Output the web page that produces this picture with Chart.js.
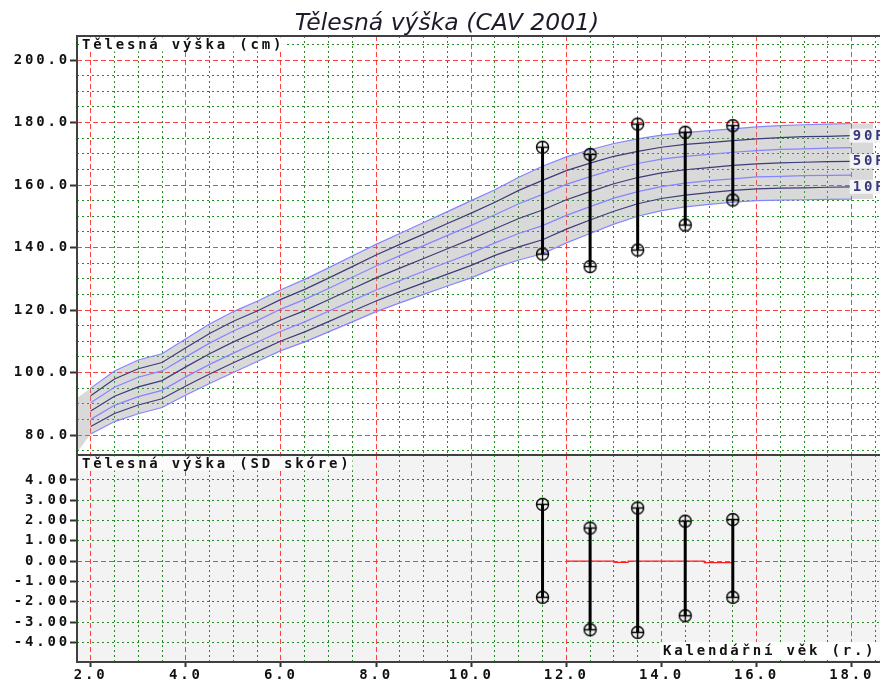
<!DOCTYPE html>
<html>
<head>
<meta charset="utf-8">
<script src="https://cdn.jsdelivr.net/npm/chart.js@4.4.1/dist/chart.umd.min.js"></script>
<style>
  html, body { margin: 0; padding: 0; background: #fff; }
  #wrap { position: relative; width: 880px; height: 683px; overflow: hidden; background: #fff; }
  #wrap canvas { position: absolute; left: 0; }
  #heightChart { top: 0; }
  #sdChart { top: 454px; }
  #title { position: absolute; left: 0; top: 11px; width: 894px; text-align: center;
           font: italic 23.5px/23.5px "DejaVu Sans", Verdana, sans-serif; color: #1c1c2a; }
</style>
</head>
<body>
<div id="wrap">
  <canvas id="heightChart" width="880" height="456"></canvas>
  <canvas id="sdChart" width="880" height="229"></canvas>
  <div id="title">Tělesná výška (CAV 2001)</div>
</div>
<script>
// věk (roky) pro percentilové křivky
const ages = [2, 2.5, 3, 3.5, 4, 4.5, 5, 5.5, 6, 6.5, 7, 7.5, 8, 8.5, 9, 9.5, 10, 10.5,
              11, 11.5, 12, 12.5, 13, 13.5, 14, 14.5, 15, 15.5, 16, 16.5, 17, 17.5, 18];

// percentily výšky (cm)
const p3  = [80.3, 84.3, 86.8, 88.8, 92.8, 96.5, 100.0, 103.5, 107.0, 109.8, 113.0, 116.2, 119.5, 122.3, 125.0, 127.7, 130.3, 133.5,
             136.0, 138.0, 141.5, 144.5, 147.5, 150.0, 151.8, 153.0, 153.8, 154.5, 155.0, 155.2, 155.3, 155.4, 155.5];
const p10 = [82.7, 86.9, 89.6, 91.6, 95.7, 99.5, 103.1, 106.6, 110.1, 113.0, 116.3, 119.6, 122.9, 125.9, 128.7, 131.5, 134.3, 137.5,
             140.2, 142.5, 145.9, 148.8, 151.6, 154.0, 155.7, 156.8, 157.6, 158.3, 158.8, 159.0, 159.1, 159.3, 159.4];
const p25 = [85.0, 89.5, 92.3, 94.3, 98.6, 102.6, 106.2, 109.7, 113.2, 116.2, 119.6, 123.0, 126.4, 129.4, 132.4, 135.3, 138.2, 141.5,
             144.5, 147.0, 150.3, 153.1, 155.8, 157.9, 159.5, 160.6, 161.4, 162.0, 162.6, 162.8, 163.0, 163.1, 163.2];
const p50 = [87.7, 92.4, 95.4, 97.4, 101.8, 106.0, 109.8, 113.2, 116.8, 119.8, 123.3, 126.8, 130.3, 133.4, 136.5, 139.6, 142.7, 146.0,
             149.3, 152.0, 155.3, 157.9, 160.4, 162.4, 163.9, 164.9, 165.6, 166.3, 166.8, 167.1, 167.3, 167.5, 167.6];
const p75 = [90.3, 95.3, 98.5, 100.5, 105.0, 109.4, 113.3, 116.6, 120.3, 123.4, 126.9, 130.5, 134.1, 137.4, 140.6, 143.9, 147.1, 150.5,
             154.0, 157.0, 160.2, 162.7, 165.0, 166.9, 168.3, 169.2, 169.8, 170.5, 171.0, 171.4, 171.6, 171.8, 172.0];
const p90 = [92.6, 97.9, 101.2, 103.2, 107.9, 112.5, 116.4, 119.7, 123.4, 126.6, 130.2, 133.9, 137.6, 141.0, 144.3, 147.7, 151.0, 154.5,
             158.3, 161.5, 164.6, 167.0, 169.2, 170.8, 172.1, 173.0, 173.6, 174.2, 174.8, 175.2, 175.5, 175.6, 175.8];
const p97 = [95.0, 100.5, 104.0, 106.0, 110.8, 115.5, 119.5, 122.8, 126.5, 129.8, 133.5, 137.3, 141.0, 144.5, 148.0, 151.5, 155.0, 158.5,
             162.5, 166.0, 169.0, 171.3, 173.3, 174.8, 176.0, 176.8, 177.4, 178.0, 178.6, 179.0, 179.3, 179.5, 179.7];

// šedé pásmo 3.-97. percentil přesahuje křivky na obou koncích
const bandLeadAge = 1.5, bandLeadLow = 70.0, bandLeadHigh = 89.5;
const bandTailAge = 18.45;

// kontroly pacienta: rozpětí výšky a SD skóre
const visitAges  = [11.5, 12.5, 13.5, 14.5, 15.5];
const heightHigh = [172.1, 169.8, 179.5, 176.9, 179.0];
const heightLow  = [137.9, 133.9, 139.2, 147.2, 155.2];
const sdHigh     = [2.80, 1.63, 2.62, 1.97, 2.05];
const sdLow      = [-1.78, -3.38, -3.51, -2.69, -1.78];

// červená čára průměru v grafu SD skóre
const sdMeanAges = [12.0, 13.0, 13.3, 14.9, 15.5];
const sdMean     = [0, -0.06, 0, -0.07, -0.07];

// osy a mřížka
const ageTicks    = [2, 4, 6, 8, 10, 12, 14, 16, 18];
const ageMinor    = [2.5, 3, 3.5, 4.5, 5, 5.5, 6.5, 7, 7.5, 8.5, 9, 9.5, 10.5, 11, 11.5, 12.5, 13, 13.5,
                     14.5, 15, 15.5, 16.5, 17, 17.5, 18.5];
const heightTicks = [80, 100, 120, 140, 160, 180, 200];
const heightMinor = [75, 85, 90, 95, 105, 110, 115, 125, 130, 135, 145, 150, 155, 165, 170, 175, 185, 190, 195, 205];
const sdTicks     = [-4, -3, -2, -1, 0, 1, 2, 3, 4];

const AGE_MIN = 1.712, AGE_MAX = 18.595;
const H_MIN = 73.6, H_MAX = 207.7;
const SD_MIN = -4.97, SD_MAX = 5.23;

const RED = 'rgba(255, 30, 30, 0.85)';
const GREEN = 'rgba(0, 120, 0, 0.85)';
const RED_DASH = [5, 3];
const GREEN_DASH = [2, 3];
const LIGHT = '#8585ff';
const DARK = '#3c3c78';
const FONT_FAMILY = '"DejaVu Sans Mono", "Liberation Mono", monospace';
const FONT_SIZE = 14;
const tickFont = { family: FONT_FAMILY, size: FONT_SIZE, weight: 'bold' };

const pts = (xs, ys) => xs.map((x, i) => ({ x, y: ys[i] }));

// pevná velikost os, bez automatického odsazení popisků
function fixSize(size) {
  return s => {
    if (s.isHorizontal()) s.height = size; else s.width = size;
    s.paddingTop = s.paddingBottom = s.paddingLeft = s.paddingRight = 0;
  };
}

function gridAxis(values, color, dash, min, max) {
  return {
    type: 'linear', min, max,
    afterBuildTicks: s => { s.ticks = values.map(v => ({ value: v })); },
    afterFit: fixSize(0),
    ticks: { display: false },
    grid: { color, lineWidth: 1, drawTicks: false },
    border: { display: false, dash }
  };
}

function visitBars(highs, lows) {
  const out = [];
  visitAges.forEach((a, i) => {
    out.push({ x: a, y: highs[i] }, { x: a, y: lows[i] }, { x: a, y: null });
  });
  return out;
}

// kroužek s křížkem pro body měření
function crossCircle() {
  const c = document.createElement('canvas');
  c.width = 15; c.height = 15;
  const g = c.getContext('2d');
  g.strokeStyle = '#000';
  g.lineWidth = 1.4;
  g.beginPath(); g.arc(7.5, 7.5, 6, 0, Math.PI * 2); g.stroke();
  g.beginPath();
  g.moveTo(1.5, 7.5); g.lineTo(13.5, 7.5);
  g.moveTo(7.5, 1.5); g.lineTo(7.5, 13.5);
  g.stroke();
  return c;
}
const marker = crossCircle();

function barDataset(data) {
  return {
    data, xAxisID: 'x', yAxisID: 'y', order: 0,
    borderColor: '#000', borderWidth: 3, spanGaps: false,
    pointStyle: marker, pointRadius: 6, tension: 0
  };
}

function curve(values, color) {
  return {
    data: pts(ages, values), xAxisID: 'x', yAxisID: 'y', order: 1,
    borderColor: color, borderWidth: 1.2, pointRadius: 0, tension: 0
  };
}

const spacingPlugin = {
  id: 'spacing',
  beforeDraw(chart) { chart.ctx.letterSpacing = '2.8px'; }
};

const framePlugin = {
  id: 'frame',
  beforeDraw(chart, args, opts) {
    if (!opts.fill) return;
    const a = chart.chartArea, ctx = chart.ctx;
    ctx.save();
    ctx.fillStyle = opts.fill;
    ctx.fillRect(a.left, a.top, a.right - a.left, a.bottom - a.top);
    ctx.restore();
  },
  afterDraw(chart) {
    const a = chart.chartArea, ctx = chart.ctx;
    ctx.save();
    ctx.strokeStyle = '#404040';
    ctx.lineWidth = 2;
    ctx.strokeRect(a.left, a.top, a.right - a.left + 4, a.bottom - a.top);
    ctx.restore();
  }
};

function caption(ctx, text, x, yMid, bg, color) {
  ctx.font = 'bold ' + FONT_SIZE + 'px ' + FONT_FAMILY;
  const w = ctx.measureText(text).width;
  if (bg) {
    ctx.fillStyle = bg;
    ctx.fillRect(x - 3, yMid - 7, w + 4, 14);
  }
  ctx.fillStyle = color;
  ctx.textBaseline = 'middle';
  ctx.textAlign = 'left';
  ctx.fillText(text, x, yMid + 0.5);
}

const heightCaptions = {
  id: 'heightCaptions',
  afterDatasetsDraw(chart) {
    const ctx = chart.ctx, a = chart.chartArea;
    ctx.save();
    caption(ctx, 'Tělesná výška (cm)', a.left + 5, a.top + 8.5, '#fff', '#111');
    const xEnd = chart.scales.x.getPixelForValue(18);
    [['90P', p90], ['50P', p50], ['10P', p10]].forEach(([name, arr]) => {
      const y = chart.scales.y.getPixelForValue(arr[arr.length - 1]);
      caption(ctx, name, xEnd + 1, y, '#f4f4f4', '#38387f');
    });
    ctx.restore();
  }
};

const sdCaptions = {
  id: 'sdCaptions',
  afterDatasetsDraw(chart) {
    const ctx = chart.ctx, a = chart.chartArea;
    ctx.save();
    caption(ctx, 'Tělesná výška (SD skóre)', a.left + 5, a.top + 8.5, '#fcfcfc', '#111');
    ctx.fillStyle = '#fff';
    ctx.fillRect(a.right - 220, a.bottom - 20, 220, 18);
    caption(ctx, 'Kalendářní věk (r.)', a.right - 217, a.bottom - 11, null, '#111');
    ctx.restore();
  }
};

const common = {
  responsive: false,
  animation: false,
  events: [],
  plugins: { legend: { display: false }, tooltip: { enabled: false } }
};

// horní graf: tělesná výška
new Chart(document.getElementById('heightChart'), {
  type: 'line',
  data: {
    datasets: [
      barDataset(visitBars(heightHigh, heightLow)),
      curve(p97, LIGHT), curve(p90, DARK), curve(p75, LIGHT), curve(p50, DARK),
      curve(p25, LIGHT), curve(p10, DARK), curve(p3, LIGHT),
      {
        data: [{ x: bandLeadAge, y: bandLeadLow }, ...pts(ages, p3), { x: bandTailAge, y: p3[p3.length - 1] }],
        xAxisID: 'x', yAxisID: 'y', order: 2,
        borderWidth: 0, pointRadius: 0, fill: false
      },
      {
        data: [{ x: bandLeadAge, y: bandLeadHigh }, ...pts(ages, p97), { x: bandTailAge, y: p97[p97.length - 1] }],
        xAxisID: 'x', yAxisID: 'y', order: 2,
        borderWidth: 0, pointRadius: 0,
        fill: { target: 8 }, backgroundColor: 'rgba(140, 140, 140, 0.33)'
      }
    ]
  },
  options: Object.assign({}, common, {
    layout: { autoPadding: false, padding: { top: 36, right: 0, bottom: 1, left: 0 } },
    plugins: Object.assign({}, common.plugins, { frame: {} }),
    scales: {
      x: gridAxis(ageTicks, RED, RED_DASH, AGE_MIN, AGE_MAX),
      xMinor: gridAxis(ageMinor, GREEN, GREEN_DASH, AGE_MIN, AGE_MAX),
      y: {
        type: 'linear', position: 'left', min: H_MIN, max: H_MAX,
        afterBuildTicks: s => { s.ticks = heightTicks.map(v => ({ value: v })); },
        afterFit: fixSize(77),
        ticks: { callback: v => v.toFixed(1), font: tickFont, color: '#111', padding: 0 },
        grid: { color: RED, lineWidth: 1, tickColor: '#333', tickLength: 7, tickWidth: 2 },
        border: { display: false, dash: RED_DASH }
      },
      yMinor: gridAxis(heightMinor, GREEN, GREEN_DASH, H_MIN, H_MAX)
    }
  }),
  plugins: [spacingPlugin, framePlugin, heightCaptions]
});

// dolní graf: SD skóre
new Chart(document.getElementById('sdChart'), {
  type: 'line',
  data: {
    datasets: [
      barDataset(visitBars(sdHigh, sdLow)),
      {
        data: pts(sdMeanAges, sdMean), xAxisID: 'x', yAxisID: 'y', order: 1,
        borderColor: '#ff2020', borderWidth: 1.2, pointRadius: 0, stepped: true
      }
    ]
  },
  options: Object.assign({}, common, {
    layout: { autoPadding: false, padding: { top: 1, right: 0, bottom: 0, left: 0 } },
    plugins: Object.assign({}, common.plugins, { frame: { fill: '#f3f3f3' } }),
    scales: {
      x: {
        type: 'linear', position: 'bottom', min: AGE_MIN, max: AGE_MAX,
        afterBuildTicks: s => { s.ticks = ageTicks.map(v => ({ value: v })); },
        afterFit: fixSize(21),
        ticks: { callback: v => v.toFixed(1), font: tickFont, color: '#111', padding: 0, maxRotation: 0, autoSkip: false },
        grid: { color: RED, lineWidth: 1, tickColor: '#333', tickLength: 5, tickWidth: 2 },
        border: { display: false, dash: RED_DASH }
      },
      xMinor: gridAxis(ageMinor, GREEN, GREEN_DASH, AGE_MIN, AGE_MAX),
      y: {
        type: 'linear', position: 'left', min: SD_MIN, max: SD_MAX,
        afterBuildTicks: s => { s.ticks = sdTicks.map(v => ({ value: v })); },
        afterFit: fixSize(77),
        ticks: { callback: v => v.toFixed(2), font: tickFont, color: '#111', padding: 0 },
        grid: {
          color: c => (c.tick && c.tick.value === 0) ? 'rgba(0,0,0,0)' : GREEN,
          lineWidth: 1, tickColor: '#333', tickLength: 7, tickWidth: 2
        },
        border: { display: false, dash: GREEN_DASH }
      },
      yZero: gridAxis([0], RED, RED_DASH, SD_MIN, SD_MAX)
    }
  }),
  plugins: [spacingPlugin, framePlugin, sdCaptions]
});
</script>
</body>
</html>
